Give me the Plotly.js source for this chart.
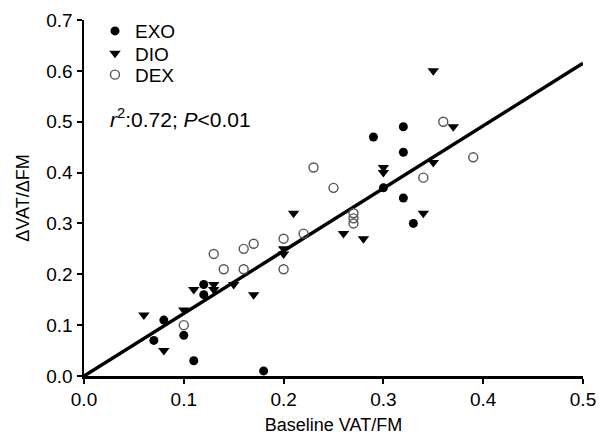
<!DOCTYPE html>
<html>
<head>
<meta charset="utf-8">
<script src="https://cdn.plot.ly/plotly-3.0.1.min.js"></script>
<style>html,body{margin:0;padding:0;background:#fff;}#chart{width:599px;height:439px;}</style>
</head>
<body>
<div id="chart"></div>
<script>
// EXO (filled circles)
const exoX = [0.07, 0.08, 0.10, 0.11, 0.12, 0.12, 0.18, 0.29, 0.30, 0.32, 0.32, 0.32, 0.33];
const exoY = [0.07, 0.11, 0.08, 0.03, 0.18, 0.16, 0.01, 0.47, 0.37, 0.49, 0.44, 0.35, 0.30];
// DIO (filled down-triangles)
const dioX = [0.06, 0.08, 0.10, 0.11, 0.13, 0.13, 0.15, 0.17, 0.20, 0.20, 0.21, 0.26, 0.28, 0.30, 0.30, 0.34, 0.35, 0.35, 0.37];
const dioY = [0.12, 0.05, 0.13, 0.17, 0.18, 0.17, 0.18, 0.16, 0.25, 0.24, 0.32, 0.28, 0.27, 0.41, 0.40, 0.32, 0.42, 0.60, 0.49];
// DEX (open circles)
const dexX = [0.10, 0.13, 0.14, 0.16, 0.16, 0.17, 0.20, 0.20, 0.22, 0.23, 0.25, 0.27, 0.27, 0.27, 0.34, 0.36, 0.39];
const dexY = [0.10, 0.24, 0.21, 0.25, 0.21, 0.26, 0.27, 0.21, 0.28, 0.41, 0.37, 0.32, 0.31, 0.30, 0.39, 0.50, 0.43];
// Regression line
const fitX = [0, 0.5];
const fitY = [0, 0.615];
// Axis ticks
const xTicks = [0, 0.1, 0.2, 0.3, 0.4, 0.5];
const xTickText = ["0.0", "0.1", "0.2", "0.3", "0.4", "0.5"];
const yTicks = [0, 0.1, 0.2, 0.3, 0.4, 0.5, 0.6, 0.7];
const yTickText = ["0.0", "0.1", "0.2", "0.3", "0.4", "0.5", "0.6", "0.7"];

const font = "Liberation Sans, Arial, Helvetica, sans-serif";

const traces = [
  {x: fitX, y: fitY, mode: "lines", line: {color: "#000", width: 3.5}, showlegend: false, hoverinfo: "skip"},
  {x: exoX, y: exoY, mode: "markers", name: "EXO", legend: "legend", marker: {symbol: "circle", size: 9, color: "#000"}, cliponaxis: false},
  {x: dioX, y: dioY, mode: "markers", name: "DIO", legend: "legend2", marker: {symbol: "triangle-down", size: 10, color: "#000"}, cliponaxis: false},
  {x: dexX, y: dexY, mode: "markers", name: "DEX", legend: "legend3", marker: {symbol: "circle-open", size: 9, color: "#555", line: {width: 1.4, color: "#555"}}, cliponaxis: false}
];

function leg(y) {
  return {x: 0.022, y: y, xanchor: "left", yanchor: "middle", bgcolor: "rgba(0,0,0,0)",
          font: {family: font, size: 19, color: "#000"}, itemwidth: 30};
}

const layout = {
  width: 599, height: 439,
  margin: {l: 84, r: 16, t: 20, b: 63},
  paper_bgcolor: "#fff", plot_bgcolor: "#fff",
  font: {family: font, size: 19, color: "#000"},
  showlegend: true,
  legend: leg(0.969),
  legend2: leg(0.906),
  legend3: leg(0.846),
  xaxis: {
    range: [0, 0.5], tickvals: xTicks, ticktext: xTickText,
    showline: true, linecolor: "#000", linewidth: 2.5, mirror: false,
    ticks: "outside", ticklen: 5, tickwidth: 2, tickcolor: "#000",
    showgrid: false, zeroline: false,
    tickfont: {family: font, size: 19, color: "#000"},
    title: {text: "Baseline VAT/FM", font: {family: font, size: 18, color: "#000"}, standoff: 9}
  },
  yaxis: {
    range: [0, 0.7], tickvals: yTicks, ticktext: yTickText,
    showline: true, linecolor: "#000", linewidth: 2.5, mirror: false,
    ticks: "outside", ticklen: 5, tickwidth: 2, tickcolor: "#000",
    showgrid: false, zeroline: false,
    tickfont: {family: font, size: 19, color: "#000"},
    title: {text: "ΔVAT/ΔFM", font: {family: font, size: 18, color: "#000"}, standoff: 12}
  },
  annotations: [{
    xref: "paper", yref: "paper", x: 0.048, y: 0.7256, xanchor: "left", yanchor: "middle",
    text: "<i>r</i><sup>2</sup>:0.72; <i>P</i><0.01", showarrow: false,
    font: {family: font, size: 21, color: "#000"}
  }]
};

Plotly.newPlot("chart", traces, layout, {displayModeBar: false, staticPlot: true});
</script>
</body>
</html>
